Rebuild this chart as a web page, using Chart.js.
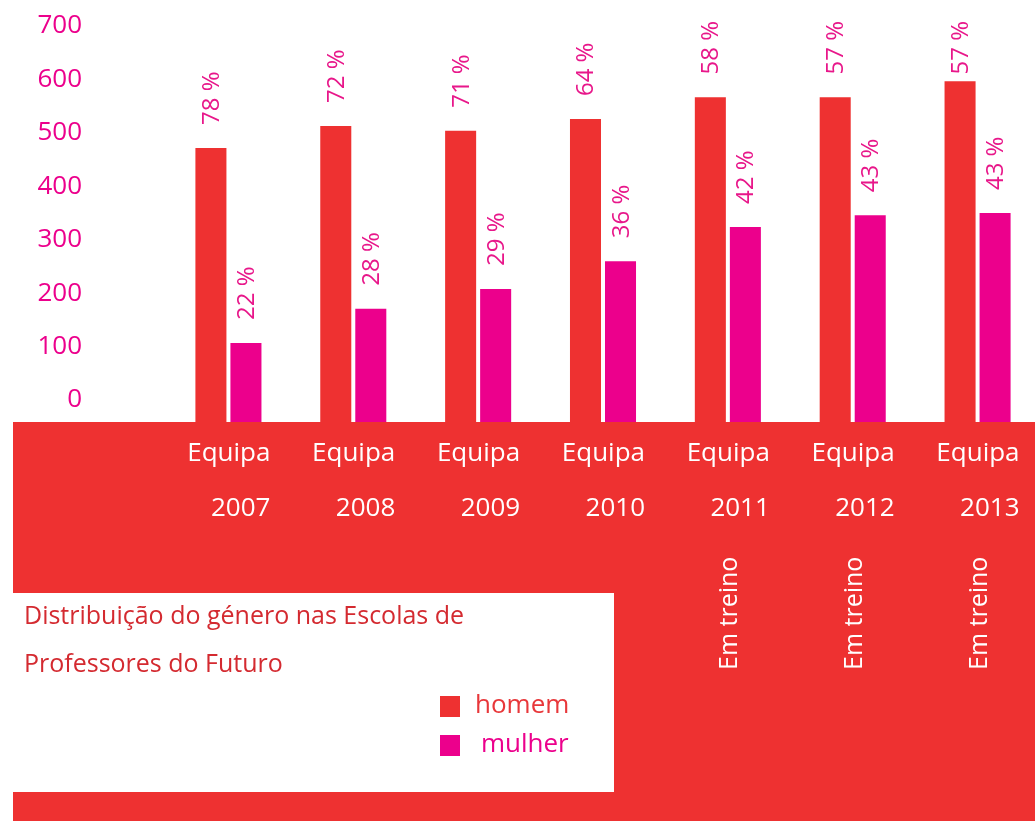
<!DOCTYPE html>
<html>
<head>
<meta charset="utf-8">
<script src="https://cdn.jsdelivr.net/npm/chart.js@4"></script>
<style>
body { margin: 0; background: #fff; overflow: hidden; font-family: 'Open Sans', sans-serif; }
#wrap { position: relative; width: 1035px; height: 821px; overflow: hidden; }
#band { position: absolute; left: 13px; top: 422px; width: 1022px; height: 399px; background: #ee3131; }
#chartBox { position: absolute; left: 0; top: 0; width: 1040px; height: 821px; }
#note { position: absolute; left: 13px; top: 593px; width: 601px; height: 199px; background: #fff; }
#title { position: absolute; left: 11px; top: -3px; font-size: 25px; line-height: 48px; color: #d42a30; white-space: nowrap; }
.leg { position: absolute; left: 427px; height: 26px; font-size: 26px; line-height: 26px; white-space: nowrap; }
.leg span.sw { position: absolute; left: 0; top: 3px; width: 20px; height: 21px; }
.leg span.tx { position: absolute; top: -3px; }
</style>
</head>
<body>
<div id="wrap">
  <div id="band"></div>
  <div id="chartBox"><canvas id="chart"></canvas></div>
  <div id="note">
    <div id="title">Distribuição do género nas Escolas de<br>Professores do Futuro</div>
    <div id="legend"></div>
  </div>
</div>
<script>
// Data
const years = ['2007', '2008', '2009', '2010', '2011', '2012', '2013'];
const teamWord = 'Equipa';
const notes = ['', '', '', '', 'Em treino', 'Em treino', 'Em treino'];
const homem = [513, 554, 545, 567, 608, 608, 638];
const mulher = [148, 212, 249, 301, 365, 387, 391];
const pctHomem = [78, 72, 71, 64, 58, 57, 57];
const pctMulher = [22, 28, 29, 36, 42, 43, 43];
const yTicks = [0, 100, 200, 300, 400, 500, 600, 700];

const RED = '#ee3131';
const MAGENTA = '#ec008c';
const FONT = "'Open Sans', sans-serif";

// percentage labels above bars, written bottom to top
const pctLabels = {
    id: 'pctLabels',
    afterDatasetsDraw(chart) {
        const ctx = chart.ctx;
        const sets = [pctHomem, pctMulher];
        ctx.save();
        ctx.font = '24px ' + FONT;
        ctx.fillStyle = '#e8178a';
        ctx.textAlign = 'left';
        ctx.textBaseline = 'alphabetic';
        chart.data.datasets.forEach((ds, di) => {
            chart.getDatasetMeta(di).data.forEach((bar, i) => {
                const txt = sets[di][i] + ' %';
                const w = ctx.measureText(txt).width;
                const start = Math.max(bar.y - 23, 21 + w);
                ctx.save();
                ctx.translate(bar.x + 8, start);
                ctx.rotate(-Math.PI / 2);
                ctx.fillText(txt, 0, 0);
                ctx.restore();
            });
        });
        // "Em treino" notes under the x labels
        ctx.font = '25px ' + FONT;
        ctx.fillStyle = '#ffffff';
        const xs = chart.scales.x;
        notes.forEach((n, i) => {
            if (!n) return;
            ctx.save();
            ctx.translate(xs.getPixelForValue(i) + 9, 670);
            ctx.rotate(-Math.PI / 2);
            ctx.fillText(n, 0, 0);
            ctx.restore();
        });
        ctx.restore();
    }
};

const chart = new Chart(document.getElementById('chart'), {
    type: 'bar',
    data: {
        labels: years.map(y => [teamWord, y]),
        datasets: [
            { label: 'homem', data: homem, backgroundColor: RED, categoryPercentage: 0.561, barPercentage: 0.886 },
            { label: 'mulher', data: mulher, backgroundColor: MAGENTA, categoryPercentage: 0.561, barPercentage: 0.886 }
        ]
    },
    options: {
        responsive: true,
        maintainAspectRatio: false,
        animation: false,
        layout: { padding: { top: 48, left: 0, right: 0, bottom: 0 } },
        plugins: { legend: { display: false }, tooltip: { enabled: false } },
        scales: {
            x: {
                grid: { display: false, drawTicks: false },
                border: { display: false },
                ticks: {
                    color: '#ffffff',
                    font: { family: FONT, size: 26, lineHeight: 2.115 },
                    align: 'end',
                    labelOffset: 42,
                    padding: 4,
                    maxRotation: 0,
                    autoSkip: false
                },
                afterFit(scale) { scale.height = 399; }
            },
            y: {
                min: 0,
                max: 700,
                grid: { display: false, drawTicks: false },
                border: { display: false },
                afterBuildTicks(scale) { scale.ticks = yTicks.map(v => ({ value: v })); },
                ticks: {
                    color: MAGENTA,
                    font: { family: FONT, size: 26 },
                    padding: 84,
                    labelOffset: -22
                },
                afterFit(scale) {
                    scale.width = 166;
                    scale.paddingTop = 0;
                    scale.paddingBottom = 0;
                }
            }
        }
    },
    plugins: [pctLabels]
});

// legend inside the white note box
const legend = document.getElementById('legend');
const legendText = ['#e8373a', MAGENTA];
const legendTop = [100, 139];
const legendTextLeft = [35, 41];
chart.data.datasets.forEach((ds, i) => {
    const item = document.createElement('div');
    item.className = 'leg';
    item.style.top = legendTop[i] + 'px';
    item.innerHTML = `<span class="sw" style="background:${ds.backgroundColor}"></span>` +
        `<span class="tx" style="left:${legendTextLeft[i]}px;color:${legendText[i]}">${ds.label}</span>`;
    legend.appendChild(item);
});
</script>
</body>
</html>
